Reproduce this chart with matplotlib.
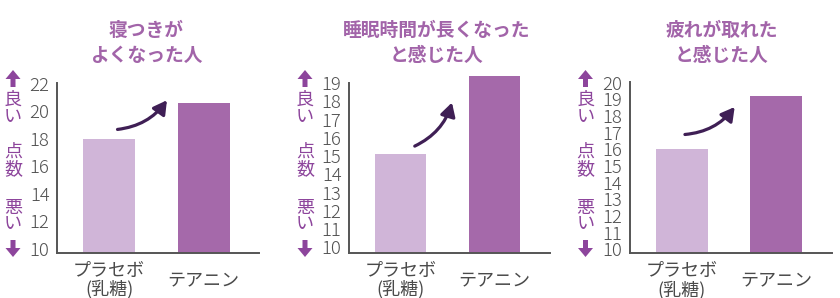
import numpy as np
import matplotlib.pyplot as plt
from matplotlib.patches import FancyArrow

plt.rcParams['font.family'] = ['Noto Sans CJK JP', 'DejaVu Sans']

# data
categories = ['プラセボ\n(乳糖)', 'テアニン']
titles = ['寝つきが\nよくなった人', '睡眠時間が長くなった\nと感じた人', '疲れが取れた\nと感じた人']
placebo = [18.0, 15.1, 16.0]
theanine = [20.6, 19.4, 19.2]
yticks = [np.arange(10, 23, 2), np.arange(10, 20, 1), np.arange(10, 21, 1)]

W, H = 840, 298
fig = plt.figure(figsize=(W / 100, H / 100), dpi=100)

def rect(l, r, t, b):
    return [l / W, 1 - b / H, (r - l) / W, (b - t) / H]

# layout (pixels): left, right, top, bottom, ylim
panels = [
    (57.3, 259.3, 82.7, 252.5, (9.71, 22.1)),
    (349.3, 550.0, 82.7, 252.7, (9.70, 19.03)),
    (630.0, 831.7, 82.0, 253.3, (9.76, 20.04)),
]
curve_arrows = [((0.09, 18.69), (0.613, 20.82)),
                ((0.15, 15.55), (0.546, 17.94)),
                ((0.035, 16.89), (0.562, 18.54))]
title_x = [146.5, 436.7, 722.0]
side_x = [13, 305, 585.5]

c_light = '#d0b5d8'
c_dark = '#a569aa'
c_title = '#a264a9'
c_side = '#8d459c'
c_text = '#4a4a4a'

for i, (l, r, t, b, yl) in enumerate(panels):
    ax = fig.add_axes(rect(l, r, t, b))
    ax.bar([0, 1], [placebo[i] - yl[0], theanine[i] - yl[0]], bottom=yl[0],
           width=0.55, color=[c_light, c_dark], clip_on=False, zorder=1)
    ax.set_xlim(-0.547, 1.59)
    ax.set_ylim(*yl)
    ax.set_yticks(yticks[i])
    ax.tick_params(axis='y', length=0, pad=5.6, labelsize=13.3, labelcolor='#505050')
    ax.tick_params(axis='x', length=0, pad=19.8, labelsize=13, labelcolor=c_text)
    ax.set_xticks([0, 1])
    ax.set_xticklabels(categories, va='center', linespacing=1.0)
    for lab in ax.get_yticklabels():
        lab.set_fontweight('light')
    for s in ['top', 'right']:
        ax.spines[s].set_visible(False)
    for s in ['left', 'bottom']:
        ax.spines[s].set_color('#555555')
        ax.spines[s].set_linewidth(1.4)
        ax.spines[s].set_zorder(3)
    st, en = curve_arrows[i]
    ax.annotate('', xy=en, xytext=st,
                arrowprops=dict(arrowstyle='-|>,head_length=0.8,head_width=0.45',
                                connectionstyle='arc3,rad=0.22', color='#3f1f55',
                                lw=2.3, shrinkA=0, shrinkB=0), annotation_clip=False)

# overlay in pixel coordinates for titles and side labels
ov = fig.add_axes([0, 0, 1, 1])
ov.set_xlim(0, W)
ov.set_ylim(H, 0)
ov.axis('off')
ov.patch.set_alpha(0)

for i in range(3):
    ov.text(title_x[i], 43, titles[i], ha='center', va='center', fontsize=13.5,
            fontweight='bold', color=c_title, linespacing=1.45)
    x = side_x[i]
    ov.add_patch(FancyArrow(x, 87, 0, -17, width=5, head_width=15, head_length=9,
                            length_includes_head=True, color=c_side, lw=0))
    ov.add_patch(FancyArrow(x, 240, 0, 17, width=5, head_width=15, head_length=9,
                            length_includes_head=True, color=c_side, lw=0))
    for ch, y in zip(['良', 'い', '点', '数', '悪', 'い'], [99.5, 116.5, 152, 169, 207.5, 224]):
        ov.text(x, y, ch, ha='center', va='center', fontsize=13, color=c_side)

fig.savefig('out.png', dpi=100)
